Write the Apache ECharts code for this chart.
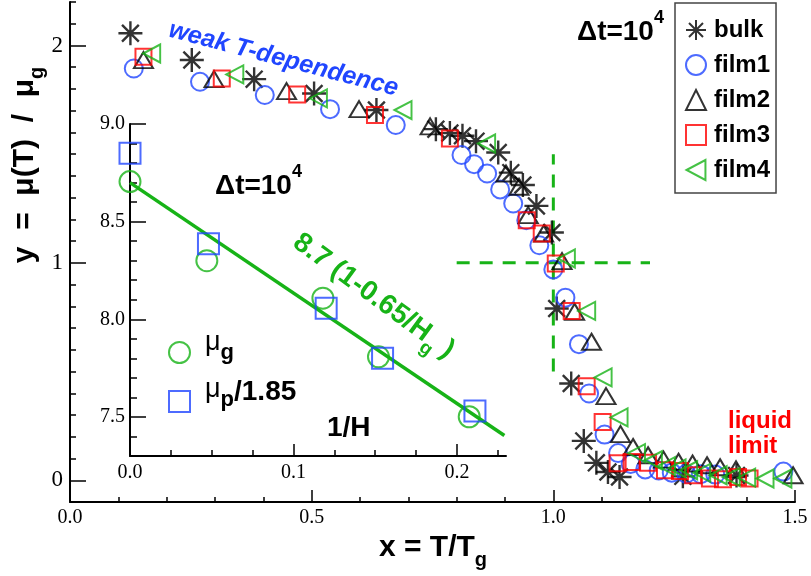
<!DOCTYPE html>
<html><head><meta charset="utf-8">
<script src="https://cdn.jsdelivr.net/npm/echarts@6/dist/echarts.min.js"></script>
<style>html,body{margin:0;padding:0;background:#fff}#c{width:811px;height:576px}</style>
</head><body><div id="c"></div>
<script>
// ---------------- data ----------------
const bulkX  = [0.125, 0.252, 0.381, 0.505, 0.634, 0.757, 0.786, 0.812, 0.840, 0.886, 0.912, 0.937, 0.965, 0.997, 1.007, 1.037, 1.063, 1.089, 1.113, 1.137, 1.268, 1.379];
const bulkY  = [2.056, 1.933, 1.845, 1.779, 1.703, 1.615, 1.597, 1.585, 1.560, 1.508, 1.415, 1.358, 1.262, 1.140, 0.790, 0.445, 0.181, 0.080, 0.038, 0.015, 0.018, 0.022];
const film1X = [0.132, 0.269, 0.403, 0.538, 0.674, 0.810, 0.836, 0.863, 0.890, 0.917, 0.944, 0.971, 1.000, 1.025, 1.053, 1.074, 1.106, 1.134, 1.160, 1.190, 1.218, 1.245, 1.275, 1.305, 1.335, 1.476];
const film1Y = [1.894, 1.833, 1.772, 1.707, 1.634, 1.496, 1.454, 1.411, 1.338, 1.273, 1.196, 1.081, 0.970, 0.840, 0.626, 0.399, 0.210, 0.125, 0.075, 0.050, 0.045, 0.035, 0.030, 0.028, 0.026, 0.040];
const film2X = [0.152, 0.298, 0.448, 0.598, 0.745, 0.902, 0.929, 0.948, 0.980, 1.018, 1.044, 1.079, 1.109, 1.139, 1.165, 1.196, 1.228, 1.259, 1.288, 1.318, 1.345, 1.378, 1.496];
const film2Y = [1.933, 1.845, 1.790, 1.707, 1.628, 1.411, 1.350, 1.220, 1.135, 1.008, 0.775, 0.637, 0.387, 0.212, 0.153, 0.115, 0.095, 0.085, 0.077, 0.069, 0.060, 0.050, 0.023];
const film3X = [0.152, 0.314, 0.470, 0.631, 0.786, 0.945, 0.976, 1.005, 1.038, 1.069, 1.102, 1.133, 1.162, 1.196, 1.231, 1.262, 1.289, 1.324, 1.351, 1.382, 1.406];
const film3Y = [1.948, 1.848, 1.775, 1.680, 1.572, 1.196, 1.135, 0.997, 0.779, 0.433, 0.268, 0.078, 0.084, 0.080, 0.046, 0.043, 0.023, 0.008, 0.005, 0.015, 0.008];
const film4X = [0.169, 0.341, 0.514, 0.689, 0.862, 1.027, 1.069, 1.103, 1.136, 1.172, 1.207, 1.234, 1.256, 1.280, 1.307, 1.341, 1.368, 1.400, 1.438, 1.475];
const film4Y = [1.963, 1.867, 1.757, 1.703, 1.549, 1.020, 0.779, 0.473, 0.289, 0.125, 0.092, 0.065, 0.055, 0.046, 0.034, 0.023, 0.015, 0.012, 0.008, 0.008];

const vDashX = [1.0, 1.0];  const vDashY = [0.5, 1.5];
const hDashX = [0.8, 1.2];  const hDashY = [1.0, 1.0];

// inset: mu_g and mu_p/1.85 vs 1/H
const insetGX = [0.000, 0.047, 0.118, 0.152, 0.2075];
const insetGY = [8.705, 8.300, 8.108, 7.808, 7.501];
const insetPX = [0.000, 0.048, 0.120, 0.1545, 0.211];
const insetPY = [8.850, 8.387, 8.056, 7.800, 7.531];
const fitX = [0.000, 0.229];
const fitY = [8.700, 7.405];

// tick labels
const mainYLabels  = [0, 1, 2];
const insetXLabels = [0, 0.1, 0.2];
const insetXMinor  = [0.025, 0.05, 0.075, 0.125, 0.15, 0.175, 0.225];
const insetYLabels = [7.5, 8.0, 8.5, 9.0];

const legendNames = ['bulk', 'film1', 'film2', 'film3', 'film4'];
const insetNames = ['μg', 'μp/1.85'];

// ---------------- helpers ----------------
const zip = (xs, ys) => xs.map((x, i) => [x, ys[i]]);
const BLUE = '#2046ff', RED = '#ff0000', GREEN = '#17b317', BLACK = '#000';
const SANS = 'Liberation Sans', SERIF = 'Liberation Serif';
const mc = document.createElement('canvas').getContext('2d');
function tw(p) {
  mc.font = `${p.style || 'normal'} ${p.weight || 'bold'} ${p.size}px "${p.family || SANS}"`;
  return mc.measureText(p.t).width;
}
function textRun(pieces, o) {
  const ws = pieces.map(tw);
  const total = ws.reduce((a, b) => a + b, 0);
  let cx = o.align === 'center' ? -total / 2 : 0;
  const children = pieces.map((p, i) => {
    const el = {
      type: 'text', x: cx, y: (p.dy || 0) - 0.347 * p.size,
      style: {
        text: p.t, fill: p.color || o.color || BLACK,
        fontSize: p.size, fontWeight: p.weight || 'bold', fontStyle: p.style || 'normal',
        fontFamily: p.family || SANS,
        align: 'left', verticalAlign: 'middle'
      }
    };
    cx += ws[i];
    return el;
  });
  return { type: 'group', x: o.x, y: o.y, rotation: o.rotation || 0, children, z: 100 };
}

const hollow = (c, w) => ({ color: 'rgba(0,0,0,0)', borderColor: c, borderWidth: w || 2 });
const STAR = 'path://M10,0L10,20M0,10L20,10M3,3L17,17M3,17L17,3';
const LTRI = 'path://M0,9L17,0L17,18Z';

const axisLineStyle = { show: true, onZero: false, lineStyle: { color: BLACK, width: 2 } };
const noLine = { show: false, onZero: false };

const option = {
  animation: false,
  backgroundColor: '#fff',
  grid: [
    { left: 70, right: 16, top: 2, bottom: 74, outerBoundsMode: 'none', containLabel: false },
    { left: 130, right: 305, top: 124, bottom: 120, outerBoundsMode: 'none', containLabel: false }
  ],
  xAxis: [
    { gridIndex: 0, type: 'value', min: 0, max: 1.5, interval: 0.5, position: 'bottom',
      axisLine: axisLineStyle, splitLine: { show: false },
      axisTick: { show: true, inside: true, length: 12, lineStyle: { color: BLACK, width: 1.5 } },
      minorTick: { show: true, splitNumber: 5, length: 5, lineStyle: { color: BLACK, width: 1.5 } },
      axisLabel: { margin: 6, fontFamily: SERIF, fontSize: 20, color: BLACK, formatter: v => v.toFixed(1) } },
    { gridIndex: 1, type: 'value', min: 0, max: 0.23, position: 'bottom',
      axisLine: axisLineStyle, splitLine: { show: false },
      axisTick: { show: true, inside: true, length: 6, customValues: insetXMinor, lineStyle: { color: BLACK, width: 1.5 } },
      axisLabel: { show: false } },
    { gridIndex: 1, type: 'value', min: 0, max: 0.23, position: 'bottom',
      axisLine: noLine, splitLine: { show: false },
      axisTick: { show: true, inside: true, length: 12, customValues: insetXLabels, lineStyle: { color: BLACK, width: 1.5 } },
      axisLabel: { margin: 7, fontFamily: SERIF, fontSize: 20, color: BLACK, customValues: insetXLabels, formatter: v => v.toFixed(1) } }
  ],
  yAxis: [
    { gridIndex: 0, type: 'value', min: -0.1, max: 2.2, interval: 0.1, position: 'left',
      axisLine: axisLineStyle, splitLine: { show: false },
      axisTick: { show: true, inside: true, length: 6, lineStyle: { color: BLACK, width: 1.5 } },
      axisLabel: { show: false } },
    { gridIndex: 0, type: 'value', min: -0.1, max: 2.2, position: 'left',
      axisLine: noLine, splitLine: { show: false },
      axisTick: { show: true, inside: true, length: 16, customValues: mainYLabels, lineStyle: { color: BLACK, width: 1.5 } },
      axisLabel: { margin: 7, fontFamily: SERIF, fontSize: 23, color: BLACK, customValues: mainYLabels, formatter: v => String(Math.round(v)) } },
    { gridIndex: 1, type: 'value', min: 7.3, max: 9.0, interval: 0.1, position: 'left',
      axisLine: axisLineStyle, splitLine: { show: false },
      axisTick: { show: true, inside: true, length: 7, lineStyle: { color: BLACK, width: 1.5 } },
      axisLabel: { show: false } },
    { gridIndex: 1, type: 'value', min: 7.3, max: 9.0, position: 'left',
      axisLine: noLine, splitLine: { show: false },
      axisTick: { show: true, inside: true, length: 16, customValues: insetYLabels, lineStyle: { color: BLACK, width: 1.5 } },
      axisLabel: { margin: 5, fontFamily: SERIF, fontSize: 20, color: BLACK, customValues: insetYLabels, formatter: v => v.toFixed(1) } }
  ],
  legend: [
    { data: legendNames, orient: 'vertical', left: 675, top: 3, padding: [15, 6, 11, 10],
      itemGap: 11, itemWidth: 20, itemHeight: 20, selectedMode: false,
      borderColor: '#444', borderWidth: 1.5, backgroundColor: 'rgba(255,255,255,0)',
      textStyle: { fontFamily: SANS, fontWeight: 'bold', fontSize: 24, color: BLACK, lineHeight: 20, padding: [0, 0, 0, 3] } },
    { data: insetNames, orient: 'vertical', left: 168, top: 341, padding: 0,
      itemGap: 26, itemWidth: 21, itemHeight: 21, selectedMode: false,
      formatter: () => '', textStyle: { fontSize: 10, lineHeight: 21 } }
  ],
  series: [
    { name: 'vdash', type: 'line', xAxisIndex: 0, yAxisIndex: 0, data: zip(vDashX, vDashY), symbol: 'none',
      lineStyle: { color: GREEN, width: 3, type: [13, 10] }, silent: true, z: 1 },
    { name: 'hdash', type: 'line', xAxisIndex: 0, yAxisIndex: 0, data: zip(hDashX, hDashY), symbol: 'none',
      lineStyle: { color: GREEN, width: 3, type: [13, 10] }, silent: true, z: 1 },
    { name: 'fit', type: 'line', xAxisIndex: 1, yAxisIndex: 2, data: zip(fitX, fitY), symbol: 'none',
      lineStyle: { color: GREEN, width: 3.5 }, silent: true, z: 1 },
    { name: 'μg', type: 'scatter', xAxisIndex: 1, yAxisIndex: 2, data: zip(insetGX, insetGY),
      symbol: 'circle', symbolSize: 21, itemStyle: hollow(GREEN), z: 3 },
    { name: 'μp/1.85', type: 'scatter', xAxisIndex: 1, yAxisIndex: 2, data: zip(insetPX, insetPY),
      symbol: 'rect', symbolSize: 21, itemStyle: hollow(BLUE), z: 3 },
    { name: 'bulk', type: 'scatter', xAxisIndex: 0, yAxisIndex: 0, data: zip(bulkX, bulkY),
      symbol: STAR, symbolSize: 24, itemStyle: hollow(BLACK, 2.4), z: 4 },
    { name: 'film1', type: 'scatter', xAxisIndex: 0, yAxisIndex: 0, data: zip(film1X, film1Y),
      symbol: 'circle', symbolSize: 18, itemStyle: hollow(BLUE), z: 4 },
    { name: 'film2', type: 'scatter', xAxisIndex: 0, yAxisIndex: 0, data: zip(film2X, film2Y),
      symbol: 'triangle', symbolSize: [19, 16], itemStyle: hollow(BLACK), z: 4 },
    { name: 'film3', type: 'scatter', xAxisIndex: 0, yAxisIndex: 0, data: zip(film3X, film3Y),
      symbol: 'rect', symbolSize: 16, itemStyle: hollow(RED), z: 4 },
    { name: 'film4', type: 'scatter', xAxisIndex: 0, yAxisIndex: 0, data: zip(film4X, film4Y),
      symbol: LTRI, symbolSize: [17, 18], itemStyle: hollow(GREEN), z: 4 }
  ],
  graphic: [
    // axis titles
    textRun([{ t: 'y  =  μ(T)  /  μ', size: 30 }, { t: 'g', size: 20, dy: 9 }], { x: 35, y: 165, rotation: Math.PI / 2, align: 'center' }),
    textRun([{ t: 'x = T/T', size: 30 }, { t: 'g', size: 20, dy: 9 }], { x: 433, y: 558, align: 'center' }),
    // annotations
    textRun([{ t: 'Δt=10', size: 28 }, { t: '4', size: 18, dy: -18 }], { x: 577, y: 42 }),
    textRun([{ t: 'Δt=10', size: 28 }, { t: '4', size: 18, dy: -18 }], { x: 215, y: 196 }),
    textRun([{ t: 'weak T-dependence', size: 25, style: 'italic', color: BLUE }], { x: 167, y: 38, rotation: -0.255 }),
    textRun([{ t: '8.7 (1-0.65/H', size: 28, color: GREEN }, { t: 'g', size: 19, dy: 9, color: GREEN }, { t: ' )', size: 28, color: GREEN }],
      { x: 368, y: 304, rotation: -0.63, align: 'center' }),
    textRun([{ t: 'liquid', size: 24, color: RED }], { x: 728, y: 430 }),
    textRun([{ t: 'limit', size: 24, color: RED }], { x: 728, y: 455 }),
    textRun([{ t: '1/H', size: 28 }], { x: 327, y: 438 }),
    // inset legend labels
    textRun([{ t: 'μ', size: 27, weight: 'normal' }, { t: 'g', size: 22, dy: 9 }], { x: 205, y: 352 }),
    textRun([{ t: 'μ', size: 27, weight: 'normal' }, { t: 'p', size: 22, dy: 9 }, { t: '/1.85', size: 28, dy: 3 }], { x: 205, y: 399 })
  ]
};

const chart = echarts.init(document.getElementById('c'), null, { renderer: 'canvas' });
chart.setOption(option);
</script>
</body></html>
